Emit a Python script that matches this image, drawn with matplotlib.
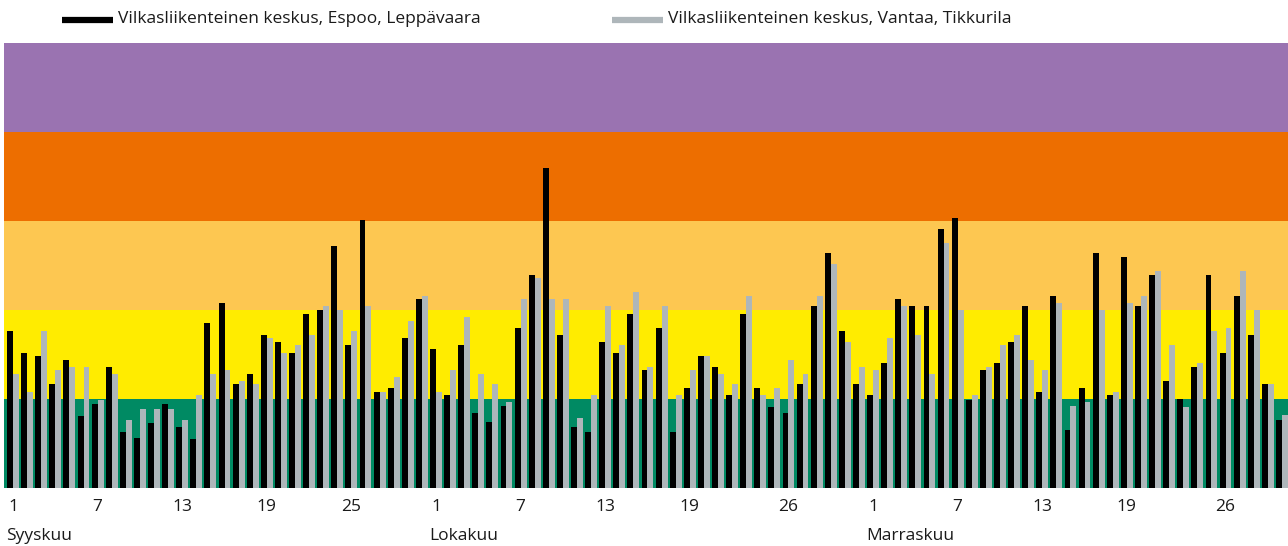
import numpy as np
import matplotlib
matplotlib.use("Agg")
import matplotlib.pyplot as plt
from matplotlib.lines import Line2D

plt.rcParams['font.family'] = ['Open Sans', 'DejaVu Sans']

# daily index values, 1 Sep - 30 Nov
espoo = [1.76, 1.51, 1.48, 1.16, 1.43, 0.80, 0.94, 1.35, 0.62, 0.56,
         0.72, 0.94, 0.68, 0.54, 1.85, 2.08, 1.16, 1.28, 1.71, 1.64,
         1.51, 1.95, 2.00, 2.72, 1.60, 3.01, 1.07, 1.12, 1.68, 2.12,
         1.56, 1.04, 1.60, 0.84, 0.74, 0.92, 1.79, 2.39, 3.59, 1.71,
         0.68, 0.62, 1.64, 1.51, 1.95, 1.32, 1.79, 0.62, 1.12, 1.48,
         1.35, 1.04, 1.95, 1.12, 0.90, 0.84, 1.16, 2.04, 2.64, 1.76,
         1.16, 1.04, 1.40, 2.12, 2.04, 2.04, 2.91, 3.03, 0.98, 1.32,
         1.40, 1.64, 2.04, 1.07, 2.15, 0.65, 1.12, 2.64, 1.04, 2.59,
         2.04, 2.39, 1.20, 0.99, 1.35, 2.39, 1.51, 2.15, 1.71, 1.16,
         0.76]
vantaa = [1.28, 1.07, 1.76, 1.32, 1.35, 1.35, 0.98, 1.28, 0.76, 0.88,
          0.88, 0.88, 0.76, 1.04, 1.28, 1.32, 1.20, 1.16, 1.68, 1.51,
          1.60, 1.71, 2.04, 2.00, 1.76, 2.04, 1.07, 1.24, 1.87, 2.15,
          1.07, 1.32, 1.92, 1.28, 1.16, 0.96, 2.12, 2.36, 2.12, 2.12,
          0.78, 1.04, 2.04, 1.60, 2.20, 1.35, 2.04, 1.04, 1.32, 1.48,
          1.28, 1.16, 2.15, 1.04, 1.12, 1.43, 1.28, 2.15, 2.51, 1.64,
          1.35, 1.32, 1.68, 2.04, 1.71, 1.28, 2.75, 2.00, 1.04, 1.35,
          1.60, 1.71, 1.43, 1.32, 2.08, 0.92, 0.96, 2.00, 1.07, 2.08,
          2.15, 2.44, 1.60, 0.90, 1.40, 1.76, 1.79, 2.44, 2.00, 1.16,
          0.81]

tick_pos = [0, 6, 12, 18, 24, 30, 36, 42, 48, 55, 61, 67, 73, 79, 86]
tick_labels = ['1', '7', '13', '19', '25', '1', '7', '13', '19', '26',
               '1', '7', '13', '19', '26']
months = ['Syyskuu', 'Lokakuu', 'Marraskuu']
month_start = [0, 30, 61]

band_colors = ['#008A63', '#FFEC00', '#FDC751', '#ED6E00', '#9A73B1']
series_names = ['Vilkasliikenteinen keskus, Espoo, Leppävaara',
                'Vilkasliikenteinen keskus, Vantaa, Tikkurila']
series_colors = ['#000000', '#AEB6BA']

fig = plt.figure(figsize=(12.88, 5.46), dpi=100)
ax = fig.add_axes([4 / 1288, 58.5 / 546, 1284 / 1288, 444.5 / 546])

for i, c in enumerate(band_colors):
    ax.axhspan(i, i + 1, color=c, lw=0, zorder=0)

x = np.arange(len(espoo))
w = 0.42
ax.bar(x - w / 2, espoo, width=w, color=series_colors[0], lw=0, zorder=2)
ax.bar(x + w / 2, vantaa, width=w, color=series_colors[1], lw=0, zorder=2)

ax.set_xlim(-0.64, 90.43)
ax.set_ylim(0, 5)
ax.set_yticks([])
ax.set_xticks(tick_pos)
ax.set_xticklabels(tick_labels, fontsize=12.5, color='#1a1a1a')
ax.tick_params(axis='x', length=0, pad=8)
for s in ax.spines.values():
    s.set_visible(False)

for m, st in zip(months, month_start):
    ax.text(st - 0.5, -0.11, m, transform=ax.get_xaxis_transform(),
            ha='left', va='center', fontsize=12.5, color='#1a1a1a')

# legend drawn by hand at the top
leg_x = [[62, 113], [612, 663]]
for (x0, x1), name, c in zip(leg_x, series_names, series_colors):
    fig.add_artist(Line2D([x0 / 1288, x1 / 1288], [1 - 20 / 546] * 2,
                          color=c, lw=4.5, solid_capstyle='butt'))
    fig.text((x1 + 5) / 1288, 1 - 19 / 546, name, ha='left', va='center',
             fontsize=12.5, color='#1a1a1a')

fig.savefig('out.png', dpi=100)
